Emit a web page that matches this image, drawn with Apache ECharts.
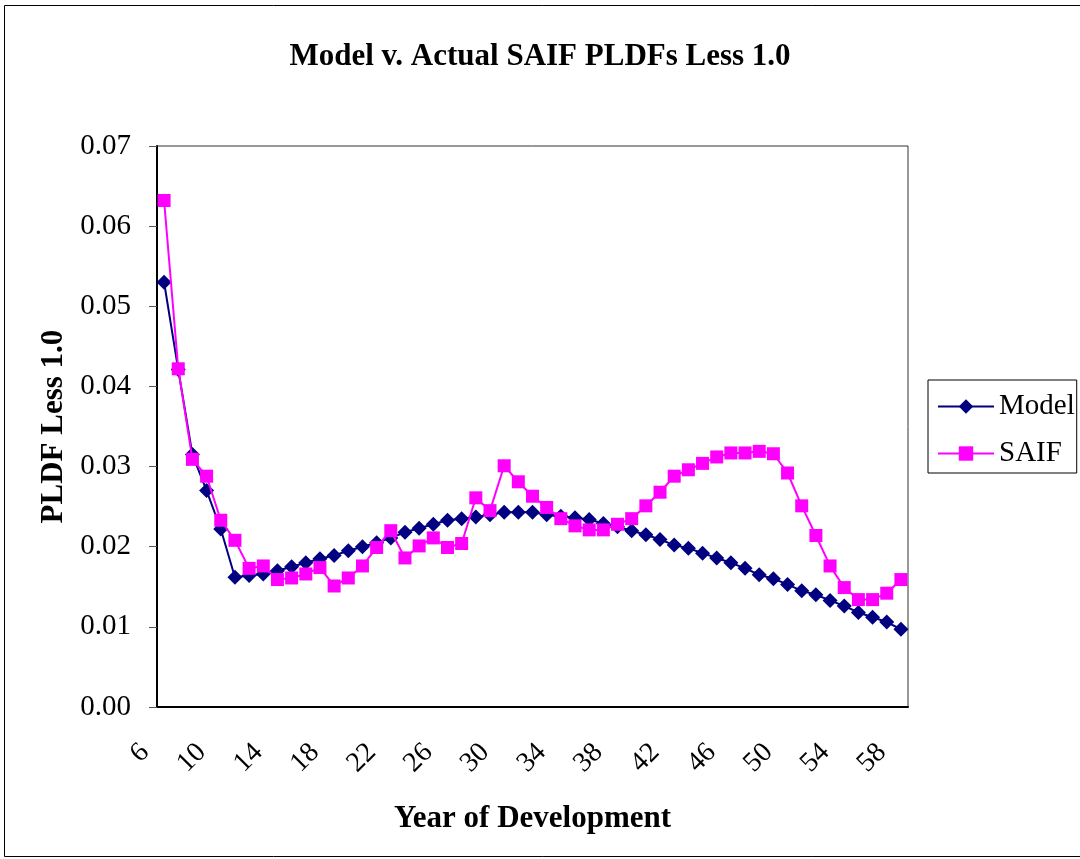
<!DOCTYPE html>
<html>
<head>
<meta charset="UTF-8">
<title>Model v. Actual SAIF PLDFs Less 1.0</title>
<style type="text/css">
html, body {
	margin: 0;
	padding: 0;
	background: #fff;
}
#main {
	width: 1080px;
	height: 859px;
}
</style>
</head>
<body>
	<div id="main"></div>
<script type="text/javascript" src="https://cdn.jsdelivr.net/npm/echarts@6/dist/echarts.min.js"></script>
<script type="text/javascript">
	// years of development 6..58
	var years = ['6', '7', '8', '9', '10', '11', '12', '13', '14', '15', '16', '17', '18', '19', '20',
		'21', '22', '23', '24', '25', '26', '27', '28', '29', '30', '31', '32', '33', '34', '35',
		'36', '37', '38', '39', '40', '41', '42', '43', '44', '45', '46', '47', '48', '49', '50',
		'51', '52', '53', '54', '55', '56', '57', '58'];

	var modelData = [0.0530, 0.0421, 0.0315, 0.0270, 0.0222, 0.0162, 0.0164, 0.0166, 0.0170, 0.0175,
		0.0180, 0.0185, 0.0189, 0.0195, 0.0200, 0.0205, 0.0211, 0.0218, 0.0223, 0.0228,
		0.0233, 0.0235, 0.0237, 0.0240, 0.0243, 0.0243, 0.0243, 0.0240, 0.0238, 0.0236,
		0.0234, 0.0229, 0.0225, 0.0220, 0.0215, 0.0209, 0.0202, 0.0198, 0.0192, 0.0186,
		0.0180, 0.0173, 0.0165, 0.0160, 0.0153, 0.0145, 0.0140, 0.0133, 0.0126, 0.0118,
		0.0112, 0.0106, 0.0097];

	var saifData = [0.0632, 0.0422, 0.0309, 0.0288, 0.0233, 0.0208, 0.0173, 0.0176, 0.0159, 0.0161,
		0.0166, 0.0174, 0.0151, 0.0161, 0.0176, 0.0199, 0.0220, 0.0186, 0.0201, 0.0211,
		0.0199, 0.0204, 0.0261, 0.0245, 0.0301, 0.0281, 0.0263, 0.0249, 0.0235, 0.0226,
		0.0221, 0.0221, 0.0228, 0.0235, 0.0251, 0.0268, 0.0288, 0.0296, 0.0304, 0.0312,
		0.0317, 0.0317, 0.0319, 0.0316, 0.0292, 0.0251, 0.0214, 0.0176, 0.0149, 0.0134,
		0.0134, 0.0142, 0.0159];

	var serif = '"Liberation Serif", "DejaVu Serif", serif';

	var chart = echarts.init(document.getElementById('main'));

	var option = {
		backgroundColor: '#fff',
		animation: false,
		textStyle: { fontFamily: serif, color: '#000' },
		title: {
			text: 'Model v. Actual SAIF PLDFs Less 1.0',
			left: 'center',
			top: 36,
			textStyle: { fontFamily: serif, fontSize: 31, fontWeight: 'bold', color: '#000' }
		},
		// outer chart border
		graphic: [{
			type: 'rect',
			shape: { x: 4.5, y: 5.5, width: 1090, height: 851 },
			style: { fill: 'none', stroke: '#000', lineWidth: 1 },
			z: -1
		}],
		legend: {
			orient: 'vertical',
			left: 928,
			top: 380,
			padding: [12, 2, 5, 9],
			itemGap: 18,
			itemWidth: 56,
			itemHeight: 18,
			borderColor: '#000',
			borderWidth: 1,
			textStyle: { fontFamily: serif, fontSize: 29, lineHeight: 28, color: '#000' },
			data: ['Model', 'SAIF']
		},
		grid: {
			left: 157,
			right: 172,
			top: 146,
			bottom: 152,
			show: true,
			borderColor: '#333',
			borderWidth: 1
		},
		xAxis: {
			type: 'category',
			data: years,
			boundaryGap: true,
			name: 'Year of Development',
			nameLocation: 'middle',
			nameGap: 96,
			nameTextStyle: { fontFamily: serif, fontSize: 31, fontWeight: 'bold', color: '#000' },
			axisLine: { lineStyle: { color: '#000', width: 2 } },
			axisTick: { interval: 0, length: 8, lineStyle: { color: '#555' } },
			axisLabel: {
				interval: 3,
				rotate: 45,
				margin: 22,
				padding: [0, 27, 0, 0],
				fontFamily: serif,
				fontSize: 28,
				color: '#000'
			},
			splitLine: { show: false }
		},
		yAxis: {
			type: 'value',
			min: 0,
			max: 0.07,
			interval: 0.01,
			name: 'PLDF Less 1.0',
			nameLocation: 'middle',
			nameRotate: 90,
			nameGap: 83,
			nameTextStyle: { fontFamily: serif, fontSize: 31, fontWeight: 'bold', color: '#000' },
			axisLine: { show: true, lineStyle: { color: '#000', width: 2 } },
			axisTick: { show: true, length: 8, lineStyle: { color: '#555' } },
			axisLabel: {
				margin: 26,
				fontFamily: serif,
				fontSize: 29,
				color: '#000',
				formatter: function (v) { return v.toFixed(2); }
			},
			splitLine: { show: false }
		},
		series: [{
			name: 'Model',
			type: 'line',
			data: modelData,
			symbol: 'diamond',
			symbolSize: 15,
			showAllSymbol: true,
			itemStyle: { color: '#000080' },
			lineStyle: { color: '#000080', width: 2 },
			z: 2
		}, {
			name: 'SAIF',
			type: 'line',
			data: saifData,
			symbol: 'rect',
			symbolSize: 13,
			showAllSymbol: true,
			itemStyle: { color: '#ff00ff' },
			lineStyle: { color: '#ff00ff', width: 2 },
			z: 3
		}]
	};

	chart.setOption(option);
</script>
</body>
</html>
